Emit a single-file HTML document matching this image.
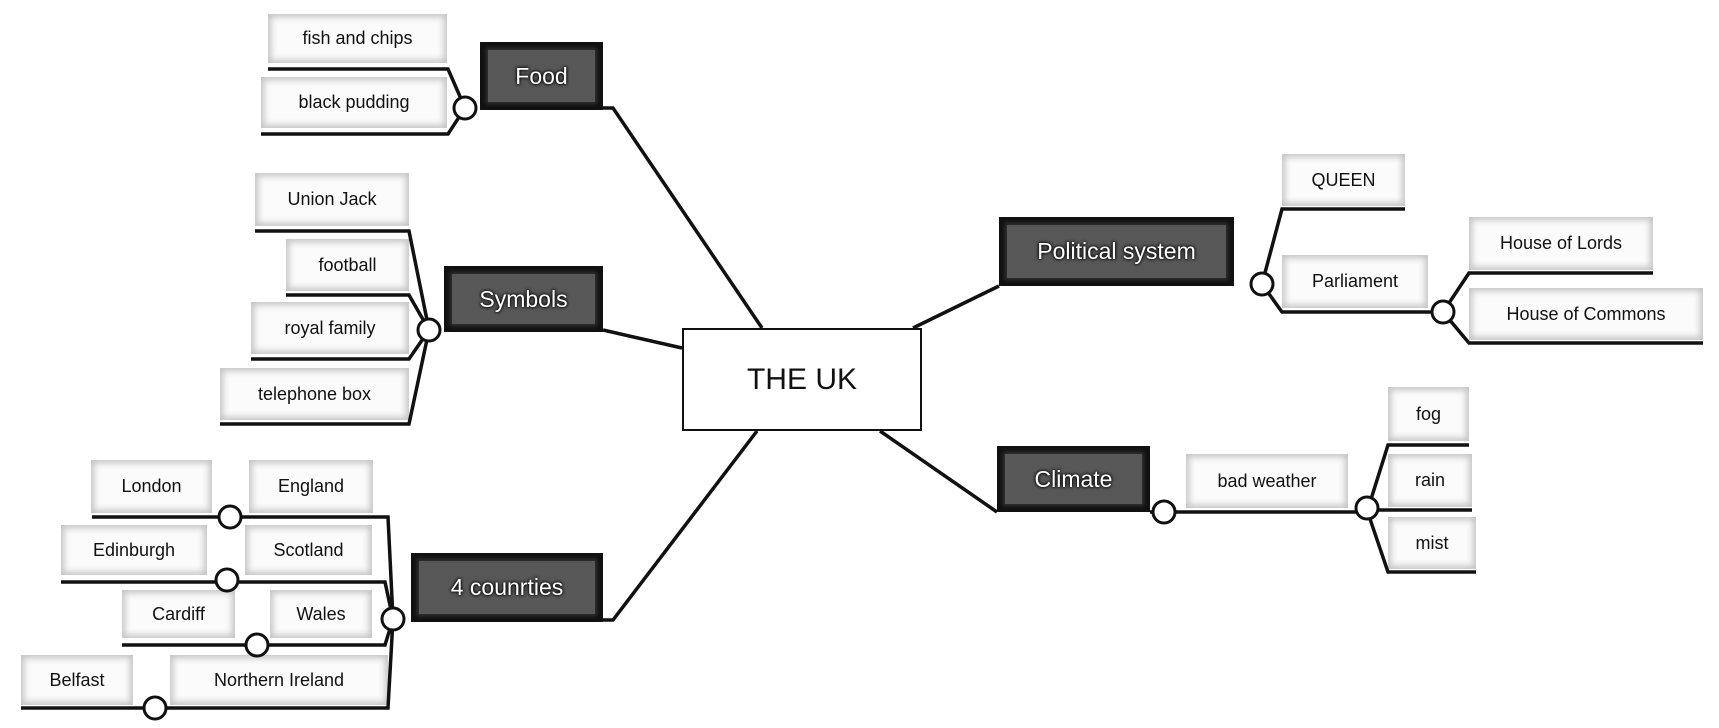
<!DOCTYPE html>
<html><head><meta charset="utf-8"><style>
body{margin:0;width:1719px;height:728px;background:#fff;position:relative;overflow:hidden;font-family:"Liberation Sans",sans-serif}
.c{position:absolute;background:#fbfbfb;box-shadow:inset 0 0 7px 3px #c4c4c4;display:flex;align-items:center;justify-content:center;font-size:18px;color:#111}
.h{position:absolute;background:#111;display:flex;align-items:center;justify-content:center}
.h span{display:flex;align-items:center;justify-content:center;background:#575757;color:#fff;font-size:23px;text-shadow:0 0 3px #000,0 0 3px #000;position:absolute;left:8px;right:8px;top:8px;bottom:8px;box-shadow:0 0 4px 2px #333}
svg{position:absolute;left:0;top:0}
</style></head><body>
<div class="c" style="left:268px;top:14px;width:179px;height:49px">fish and chips</div>
<div class="c" style="left:261px;top:77px;width:186px;height:51px">black pudding</div>
<div class="c" style="left:255px;top:173px;width:154px;height:53px">Union Jack</div>
<div class="c" style="left:286px;top:239px;width:123px;height:52px">football</div>
<div class="c" style="left:251px;top:302px;width:158px;height:52px">royal family</div>
<div class="c" style="left:220px;top:368px;width:189px;height:52px">telephone box</div>
<div class="c" style="left:91px;top:460px;width:121px;height:53px">London</div>
<div class="c" style="left:249px;top:460px;width:124px;height:53px">England</div>
<div class="c" style="left:61px;top:525px;width:146px;height:50px">Edinburgh</div>
<div class="c" style="left:245px;top:525px;width:127px;height:50px">Scotland</div>
<div class="c" style="left:122px;top:590px;width:113px;height:48px">Cardiff</div>
<div class="c" style="left:270px;top:590px;width:102px;height:48px">Wales</div>
<div class="c" style="left:21px;top:655px;width:112px;height:50px">Belfast</div>
<div class="c" style="left:170px;top:655px;width:218px;height:50px">Northern Ireland</div>
<div class="c" style="left:1282px;top:154px;width:123px;height:52px">QUEEN</div>
<div class="c" style="left:1282px;top:255px;width:146px;height:53px">Parliament</div>
<div class="c" style="left:1469px;top:217px;width:184px;height:53px">House of Lords</div>
<div class="c" style="left:1469px;top:288px;width:234px;height:52px">House of Commons</div>
<div class="c" style="left:1186px;top:454px;width:162px;height:54px">bad weather</div>
<div class="c" style="left:1388px;top:387px;width:81px;height:54px">fog</div>
<div class="c" style="left:1388px;top:454px;width:84px;height:53px">rain</div>
<div class="c" style="left:1388px;top:517px;width:88px;height:52px">mist</div>
<div class="h" style="left:480px;top:42px;width:123px;height:68px"><span>Food</span></div>
<div class="h" style="left:444px;top:266px;width:159px;height:66px"><span>Symbols</span></div>
<div class="h" style="left:411px;top:553px;width:192px;height:69px"><span>4 counrties</span></div>
<div class="h" style="left:999px;top:217px;width:235px;height:69px"><span>Political system</span></div>
<div class="h" style="left:997px;top:446px;width:153px;height:66px"><span>Climate</span></div>
<div style="position:absolute;left:682px;top:328px;width:236px;height:99px;border:2.5px solid #111;background:#fff;display:flex;align-items:center;justify-content:center;font-size:30px;color:#111">THE UK</div>
<svg width="1719" height="728" fill="none" stroke="#111" stroke-width="3.5">
<path d="M603 108H613L762 328M603 330L682 348M603 620H613L757 431M913 328L999 286M880 431L997 512"/>
<path d="M268 69H448L465 108L448 134H261"/>
<path d="M255 231H409L429 330M286 295H409L429 330M251 359H409L429 330M220 424H409L429 330"/>
<path d="M92 517H388L393 619M61 582H385L393 619M122 645H385L393 619M21 708H388L393 619"/>
<path d="M1405 209H1282L1262 284L1282 312H1428L1443 312L1469 273H1653M1443 312L1469 343H1703"/>
<path d="M1150 512H1367L1388 445H1469M1367 510H1472M1367 510L1388 572H1476"/>
<g fill="#fff" stroke-width="3">
<circle cx="465" cy="108" r="11"/><circle cx="429" cy="330" r="11"/><circle cx="393" cy="619" r="11"/>
<circle cx="230" cy="517" r="11"/><circle cx="227" cy="580" r="11"/><circle cx="257" cy="645" r="11"/><circle cx="155" cy="708" r="11"/>
<circle cx="1262" cy="284" r="11"/><circle cx="1443" cy="312" r="11"/><circle cx="1164" cy="512" r="11"/><circle cx="1367" cy="508" r="11"/>
</g></svg>
</body></html>
